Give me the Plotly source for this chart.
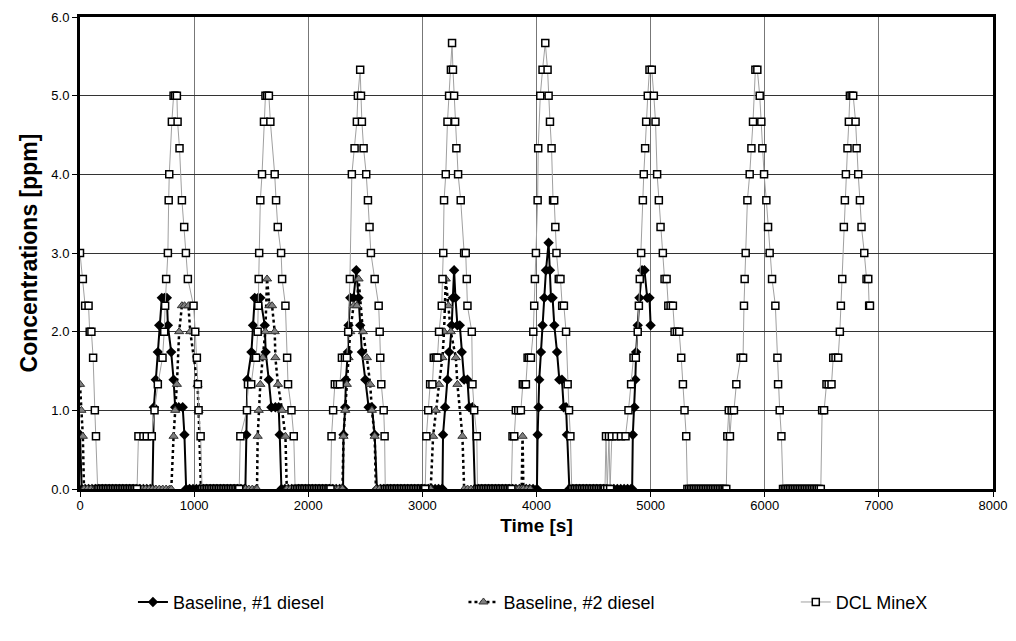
import plotly.graph_objects as go

# ---- data: (time [s], concentration [ppm]) ----
baseline_1_peaks = [
    (0, 0.69),
    (647, 1.04), (664, 1.39), (682, 1.74), (694, 2.08), (717, 2.43), (740, 2.43), (761, 2.43), (770, 2.08),
    (799, 1.74), (820, 1.39), (834, 1.04), (865, 1.04), (900, 1.04), (915, 0.69),
    (1458, 0.69), (1466, 1.39), (1502, 1.74), (1516, 2.08), (1531, 2.43), (1560, 2.43), (1580, 2.43),
    (1619, 2.08), (1627, 1.74), (1654, 1.39), (1677, 1.04), (1712, 1.04), (1741, 1.04), (1750, 0.69),
    (2309, 0.69), (2324, 1.04), (2330, 1.39), (2347, 1.74), (2353, 2.08), (2368, 2.43), (2397, 2.43),
    (2421, 2.78), (2441, 2.43), (2455, 2.08), (2470, 1.74), (2500, 1.39), (2529, 1.04), (2558, 1.04),
    (2582, 0.69),
    (3181, 0.69), (3199, 1.04), (3220, 1.39), (3234, 1.74), (3257, 2.08), (3267, 2.43), (3278, 2.78),
    (3290, 2.43), (3307, 2.08), (3328, 2.08), (3345, 1.74), (3366, 1.39), (3395, 1.39), (3410, 1.04),
    (3439, 1.04),
    (4010, 0.69), (4018, 1.04), (4024, 1.39), (4039, 1.74), (4053, 2.08), (4068, 2.43), (4083, 2.78),
    (4106, 3.13), (4118, 2.78), (4127, 2.43), (4141, 2.43), (4156, 2.08), (4180, 1.74), (4200, 1.39),
    (4223, 1.39), (4238, 1.04), (4259, 1.04), (4267, 0.69),
    (4844, 0.69), (4858, 1.04), (4866, 1.39), (4873, 1.74), (4887, 2.08), (4902, 2.43), (4925, 2.78),
    (4946, 2.78), (4970, 2.43), (4990, 2.43), (5000, 2.08),
]
baseline_1_zero_times = [
    15, 45, 75, 105, 135, 165, 195, 225, 255, 285, 315, 345, 375, 405, 435, 465, 495, 525, 555, 585, 615, 635,
    930, 960, 990, 1020, 1050, 1080, 1110, 1140, 1170, 1200, 1230, 1260, 1290, 1320, 1350, 1380, 1410, 1440, 1449,
    1765, 1795, 1825, 1855, 1885, 1915, 1945, 1975, 2005, 2035, 2065, 2095, 2125, 2155, 2185, 2215, 2245, 2275, 2305,
    2602, 2632, 2662, 2692, 2722, 2752, 2782, 2812, 2842, 2872, 2902, 2932, 2962, 2992, 3022, 3052, 3082, 3112,
    3142, 3172, 3176,
    3460, 3490, 3520, 3550, 3580, 3610, 3640, 3670, 3700, 3730, 3760, 3790, 3820, 3850, 3880, 3910, 3940, 3970, 4004,
    4288, 4318, 4348, 4378, 4408, 4438, 4468, 4498, 4528, 4558, 4588, 4618, 4648, 4678, 4708, 4738, 4768, 4798,
    4828, 4838,
]

baseline_2_peaks = [
    (0, 1.33), (12, 1.0), (25, 0.67),
    (820, 0.67), (834, 1.0), (849, 1.33), (869, 2.0), (893, 2.33), (916, 2.33), (950, 2.33), (966, 2.0),
    (1030, 1.33), (1039, 1.0),
    (1557, 0.67), (1566, 1.0), (1580, 1.33), (1601, 1.67), (1624, 2.0), (1639, 2.67), (1660, 2.33),
    (1683, 2.33), (1706, 2.0), (1712, 1.67), (1735, 1.33), (1771, 1.0), (1800, 0.67),
    (2309, 0.67), (2324, 1.0), (2338, 1.33), (2353, 1.67), (2368, 2.0), (2397, 2.33), (2426, 2.33),
    (2441, 2.67), (2479, 2.0), (2514, 1.67), (2543, 1.33), (2558, 1.0), (2582, 0.67),
    (3094, 0.67), (3117, 1.0), (3146, 1.33), (3176, 1.67), (3190, 2.0), (3205, 2.67), (3228, 2.33),
    (3249, 2.0), (3293, 1.67), (3307, 1.33), (3351, 0.67),
    (3878, 0.67),
]
baseline_2_zero_times = [
    35, 65, 95, 125, 155, 185, 215, 245, 275, 305, 335, 365, 395, 425, 455, 485, 515, 545, 575, 605, 635,
    665, 695, 725, 755, 785, 800,
    1060, 1090, 1120, 1150, 1180, 1210, 1240, 1270, 1300, 1330, 1360, 1390, 1420, 1450, 1480, 1510, 1540, 1551,
    1812, 1842, 1872, 1902, 1932, 1962, 1992, 2022, 2052, 2082, 2112, 2142, 2172, 2202, 2232, 2262, 2292, 2300,
    2593, 2623, 2653, 2683, 2713, 2743, 2773, 2803, 2833, 2863, 2893, 2923, 2953, 2983, 3013, 3043, 3073,
    3366, 3396, 3426, 3456, 3486, 3516, 3546, 3576, 3606, 3636, 3666, 3696, 3726, 3756, 3786, 3816, 3846, 3870,
    3885, 3915, 3945,
]

dcl_minex_peaks = [
    (0, 3.0), (25, 2.67), (45, 2.33), (75, 2.33), (85, 2.0), (100, 2.0), (115, 1.67), (130, 1.0), (140, 0.67),
    (512, 0.67), (556, 0.67), (585, 0.67), (629, 0.67), (653, 1.0), (682, 1.33), (723, 1.67), (738, 2.0),
    (746, 2.33), (755, 2.67), (770, 3.0), (777, 3.67), (782, 4.0), (805, 4.67), (820, 5.0), (834, 5.0),
    (849, 5.0), (855, 4.67), (872, 4.33), (893, 3.67), (913, 3.33), (928, 3.0), (945, 2.67), (995, 2.33),
    (1010, 2.0), (1024, 1.67), (1033, 1.33), (1039, 1.0), (1057, 0.67),
    (1405, 0.67), (1463, 1.0), (1472, 1.33), (1500, 1.33), (1530, 1.67), (1543, 1.67), (1557, 2.0),
    (1562, 2.33), (1566, 2.67), (1570, 3.0), (1580, 3.67), (1595, 4.0), (1612, 4.67), (1625, 5.0),
    (1640, 5.0), (1655, 5.0), (1668, 4.67), (1706, 4.0), (1718, 3.67), (1733, 3.33), (1762, 3.0),
    (1771, 2.67), (1800, 2.33), (1815, 1.67), (1823, 1.33), (1853, 1.0), (1873, 0.67),
    (2204, 0.67), (2218, 1.0), (2233, 1.33), (2255, 1.33), (2277, 1.33), (2295, 1.67), (2321, 1.67),
    (2338, 1.67), (2350, 2.0), (2365, 2.67), (2382, 4.0), (2406, 4.33), (2426, 4.67), (2435, 5.0),
    (2455, 5.33), (2462, 5.0), (2470, 4.67), (2485, 4.33), (2508, 4.0), (2523, 3.67), (2537, 3.33),
    (2549, 3.0), (2582, 2.67), (2617, 2.33), (2626, 2.0), (2631, 1.67), (2640, 1.33), (2661, 1.0),
    (2669, 0.67),
    (3035, 0.67), (3051, 1.0), (3068, 1.33), (3088, 1.33), (3100, 1.67), (3117, 1.67), (3132, 1.67),
    (3146, 2.0), (3170, 2.33), (3176, 2.67), (3183, 3.0), (3190, 3.67), (3205, 4.0), (3220, 4.67),
    (3234, 5.0), (3250, 5.33), (3260, 5.67), (3268, 5.33), (3278, 5.0), (3287, 4.67), (3298, 4.33),
    (3313, 4.0), (3336, 3.67), (3366, 3.0), (3380, 3.0), (3389, 2.67), (3395, 2.33), (3433, 2.0),
    (3439, 1.33), (3454, 1.0), (3477, 0.67),
    (3790, 0.67), (3805, 0.67), (3819, 1.0), (3840, 1.0), (3863, 1.0), (3880, 1.33), (3895, 1.33),
    (3907, 1.33), (3922, 1.67), (3935, 1.67), (3951, 1.67), (3972, 2.0), (3980, 2.33), (3986, 2.67),
    (3995, 3.0), (4010, 3.67), (4015, 4.33), (4033, 5.0), (4053, 5.33), (4077, 5.67), (4097, 5.33),
    (4106, 5.0), (4118, 4.67), (4132, 4.33), (4145, 3.67), (4155, 3.67), (4165, 3.33), (4175, 3.0),
    (4195, 2.67), (4210, 2.67), (4225, 2.33), (4240, 2.33), (4259, 2.0), (4273, 1.33), (4285, 1.0),
    (4297, 0.67),
    (4609, 0.67), (4635, 0.67), (4660, 0.67), (4700, 0.67), (4740, 0.67),
    (4780, 0.67), (4806, 1.0), (4829, 1.33), (4850, 1.67), (4870, 1.67), (4887, 2.0), (4897, 2.33),
    (4905, 2.67), (4917, 3.0), (4932, 3.67), (4940, 4.0), (4952, 4.33), (4961, 4.67), (4975, 5.0),
    (4990, 5.33), (5010, 5.33), (5028, 5.0), (5043, 4.67), (5057, 4.0), (5072, 3.67), (5087, 3.33),
    (5107, 3.0), (5122, 2.67), (5140, 2.67), (5155, 2.33), (5175, 2.33), (5195, 2.33), (5210, 2.0),
    (5230, 2.0), (5250, 2.0), (5268, 1.67), (5283, 1.33), (5297, 1.0), (5312, 0.67),
    (5672, 0.67), (5685, 1.0), (5695, 0.67), (5710, 1.0), (5730, 1.0), (5751, 1.33), (5789, 1.67),
    (5810, 1.67), (5818, 2.33), (5824, 2.67), (5833, 3.0), (5848, 3.67), (5868, 4.0), (5883, 4.33),
    (5897, 4.67), (5918, 5.33), (5935, 5.33), (5956, 5.0), (5970, 4.67), (5979, 4.33), (5994, 4.0),
    (6014, 3.67), (6029, 3.33), (6043, 3.0), (6064, 2.67), (6093, 2.33), (6111, 1.67), (6117, 1.33),
    (6131, 1.0), (6146, 0.67),
    (6503, 1.0), (6520, 1.0), (6541, 1.33), (6560, 1.33), (6585, 1.33), (6600, 1.67), (6620, 1.67),
    (6643, 1.67), (6658, 2.0), (6667, 2.33), (6679, 2.67), (6693, 3.33), (6702, 3.67), (6711, 4.0),
    (6725, 4.33), (6737, 4.67), (6746, 5.0), (6761, 5.0), (6775, 5.0), (6796, 4.67), (6805, 4.33),
    (6819, 4.0), (6834, 3.67), (6848, 3.33), (6872, 3.0), (6892, 2.67), (6907, 2.67), (6915, 2.33),
    (6922, 2.33),
]
dcl_minex_zero_times = [
    155, 170, 185, 200, 215, 230, 245, 260, 275, 290, 305, 320, 335, 350, 365, 380, 395, 410, 425, 440,
    455, 470, 485, 500,
    1070, 1085, 1100, 1115, 1130, 1145, 1160, 1175, 1190, 1205, 1220, 1235, 1250, 1265, 1280, 1295, 1310,
    1325, 1340, 1355, 1370, 1385, 1395,
    1885, 1900, 1915, 1930, 1945, 1960, 1975, 1990, 2005, 2020, 2035, 2050, 2065, 2080, 2095, 2110, 2125,
    2140, 2155, 2170, 2185, 2195,
    2675, 2690, 2705, 2720, 2735, 2750, 2765, 2780, 2795, 2810, 2825, 2840, 2855, 2870, 2885, 2900, 2915,
    2930, 2945, 2960, 2975, 2990, 3005, 3015, 3025,
    3483, 3498, 3513, 3528, 3543, 3558, 3573, 3588, 3603, 3618, 3633, 3648, 3663, 3678, 3693, 3708, 3723,
    3738, 3753, 3768, 3780,
    4309, 4324, 4339, 4354, 4369, 4384, 4399, 4414, 4429, 4444, 4459, 4474, 4489, 4504, 4519, 4534, 4549,
    4564, 4579, 4590, 4600, 4620, 4645,
    5322, 5337, 5352, 5367, 5382, 5397, 5412, 5427, 5442, 5457, 5472, 5487, 5502, 5517, 5532, 5547, 5562,
    5577, 5592, 5607, 5622, 5637, 5650, 5663,
    6160, 6175, 6190, 6205, 6220, 6235, 6250, 6265, 6280, 6295, 6310, 6325, 6340, 6355, 6370, 6385, 6400,
    6415, 6430, 6445, 6460, 6475, 6491,
]

series_names = ["Baseline, #1 diesel", "Baseline, #2 diesel", "DCL MineX"]
x_ticks = [0, 1000, 2000, 3000, 4000, 5000, 6000, 7000, 8000]
y_ticks = [0.0, 1.0, 2.0, 3.0, 4.0, 5.0, 6.0]

FONT = "Liberation Sans, Arial, sans-serif"


def merged(peaks, zero_times):
    pts = sorted(list(peaks) + [(t, 0.0) for t in zero_times])
    return [p[0] for p in pts], [p[1] for p in pts]


b1_x, b1_y = merged(baseline_1_peaks, baseline_1_zero_times)
b2_x, b2_y = merged(baseline_2_peaks, baseline_2_zero_times)
dcl_x, dcl_y = merged(dcl_minex_peaks, dcl_minex_zero_times)

fig = go.Figure()
fig.add_trace(go.Scatter(
    x=b1_x, y=b1_y, mode="lines+markers", name=series_names[0], legend="legend",
    line=dict(color="black", width=2),
    marker=dict(symbol="diamond", size=8, color="black"),
))
fig.add_trace(go.Scatter(
    x=b2_x, y=b2_y, mode="lines+markers", name=series_names[1], legend="legend2",
    line=dict(color="black", width=2.5, dash="dot"),
    marker=dict(symbol="triangle-up", size=8, color="#808080", line=dict(color="#333333", width=1)),
))
fig.add_trace(go.Scatter(
    x=dcl_x, y=dcl_y, mode="lines+markers", name=series_names[2], legend="legend3",
    line=dict(color="#a0a0a0", width=1),
    marker=dict(symbol="square", size=7, color="white", line=dict(color="black", width=1.5)),
))

leg_common = dict(orientation="h", y=-0.24, yanchor="middle", xanchor="left",
                  font=dict(family=FONT, size=18, color="black"), bgcolor="rgba(0,0,0,0)",
                  borderwidth=0)

# the page body adds an 8px margin, so the figure is shifted by that much
fig.update_layout(
    width=1000, height=625,
    margin=dict(l=72, r=15, t=9, b=144),
    paper_bgcolor="white", plot_bgcolor="white",
    font=dict(family=FONT, size=12, color="black"),
    showlegend=True,
    legend=dict(x=0.058, **leg_common),
    legend2=dict(x=0.420, **leg_common),
    legend3=dict(x=0.784, **leg_common),
)
fig.update_xaxes(
    range=[0, 8000], tickvals=x_ticks, ticktext=[str(v) for v in x_ticks],
    showgrid=True, gridcolor="#777777", gridwidth=1,
    showline=True, linecolor="black", linewidth=3, mirror=True,
    ticks="outside", ticklen=5, tickcolor="black", ticklabelstandoff=-3,
    tickfont=dict(family=FONT, size=13),
    zeroline=False,
    title=dict(text="<b>Time [s]</b>", font=dict(family=FONT, size=19), standoff=8),
    automargin=False,
)
fig.update_yaxes(
    range=[0, 6], tickvals=y_ticks, ticktext=[f"{v:.1f}" for v in y_ticks],
    showgrid=True, gridcolor="#333333", gridwidth=1,
    showline=True, linecolor="black", linewidth=3, mirror=True,
    ticks="outside", ticklen=5, tickcolor="black",
    tickfont=dict(family=FONT, size=13),
    zeroline=False,
    title=dict(text="<b>Concentrations [ppm]</b>", font=dict(family=FONT, size=23), standoff=8),
    automargin=False,
)

fig.write_html("out.html")
